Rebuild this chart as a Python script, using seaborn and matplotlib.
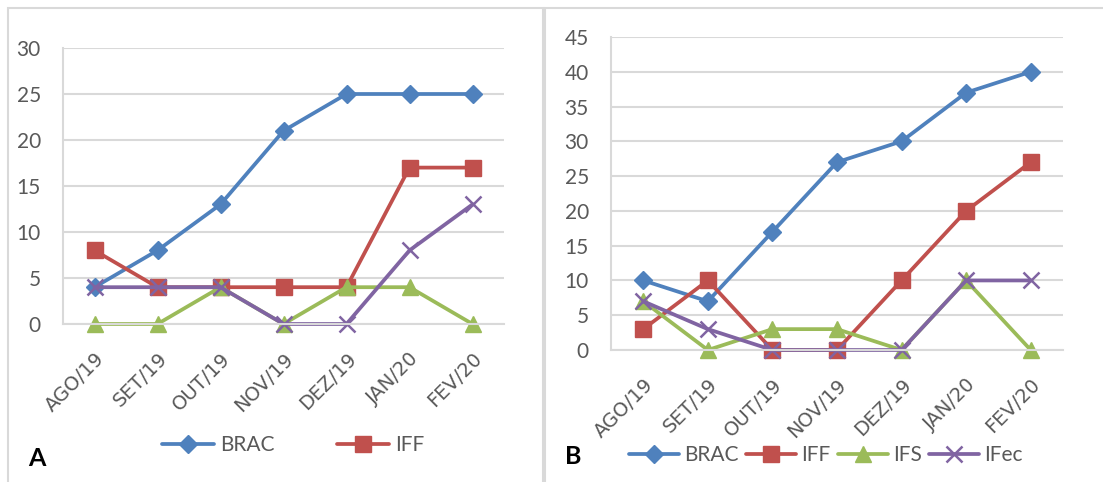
import matplotlib
matplotlib.use("Agg")
import matplotlib.pyplot as plt
import seaborn as sns
from matplotlib.lines import Line2D
from matplotlib.patches import Rectangle

# Data
months = ["AGO/19", "SET/19", "OUT/19", "NOV/19", "DEZ/19", "JAN/20", "FEV/20"]
series_names = ["BRAC", "IFF", "IFS", "IFec"]

a_brac = [4, 8, 13, 21, 25, 25, 25]
a_iff = [8, 4, 4, 4, 4, 17, 17]
a_ifs = [0, 0, 4, 0, 4, 4, 0]
a_ifec = [4, 4, 4, 0, 0, 8, 13]

b_brac = [10, 7, 17, 27, 30, 37, 40]
b_iff = [3, 10, 0, 0, 10, 20, 27]
b_ifs = [7, 0, 3, 3, 0, 10, 0]
b_ifec = [7, 3, 0, 0, 0, 10, 10]

a_yticks = [0, 5, 10, 15, 20, 25, 30]
b_yticks = [0, 5, 10, 15, 20, 25, 30, 35, 40, 45]

# Style
colors = ["#4F81BD", "#C0504D", "#9BBB59", "#8064A2"]
markers = ["D", "s", "^", "x"]
msizes = [9, 11, 11, 11]
GRID = "#D9D9D9"
TXT = "#595959"
LW = 2.7

sns.set_style("white")
plt.rcParams["font.family"] = ["Lato", "DejaVu Sans"]

fig = plt.figure(figsize=(11.03, 4.82), dpi=100)

# panel borders
fig.patches.append(Rectangle((8 / 1103, -0.05), 535 / 1103, 1 - 8 / 482 + 0.05,
                             transform=fig.transFigure, fill=False,
                             edgecolor=GRID, linewidth=1.5))
fig.patches.append(Rectangle((545 / 1103, -0.05), 600 / 1103, 1 - 8 / 482 + 0.05,
                             transform=fig.transFigure, fill=False,
                             edgecolor=GRID, linewidth=1.5))

ax_a = fig.add_axes([63 / 1103, 158 / 482, 441 / 1103, 276 / 482])
ax_b = fig.add_axes([611 / 1103, 132 / 482, 452 / 1103, 313 / 482])


def draw_panel(ax, data, yticks):
    for vals, c, m, ms in zip(data, colors, markers, msizes):
        sns.lineplot(x=months, y=vals, color=c, marker=m, markersize=ms,
                     markeredgecolor=c, markeredgewidth=1.8 if m == "x" else 1,
                     linewidth=LW, sort=False, ax=ax, clip_on=False)
    ax.set_xlim(-0.5, len(months) - 0.5)
    ax.set_ylim(yticks[0], yticks[-1])
    ax.set_yticks(yticks)
    ax.set_yticklabels([str(v) for v in yticks], fontsize=15, color=TXT)
    ax.tick_params(axis="y", length=0, pad=16)
    ax.grid(axis="y", color=GRID, linewidth=1.5)
    ax.set_axisbelow(True)
    # category boundaries as tick marks, labels at centers
    ax.set_xticks(range(len(months)))
    ax.set_xticklabels(months, rotation=45, ha="right", rotation_mode="anchor",
                       fontsize=14, color=TXT, family=["DejaVu Sans"])
    ax.tick_params(axis="x", which="major", length=0, pad=18)
    ax.set_xticks([i - 0.5 for i in range(len(months) + 1)], minor=True)
    ax.tick_params(axis="x", which="minor", length=6, color=GRID, width=1.5)
    for s in ["top", "right"]:
        ax.spines[s].set_visible(False)
    for s in ["left", "bottom"]:
        ax.spines[s].set_color(GRID)
        ax.spines[s].set_linewidth(1.5)
    ax.set_xlabel("")
    ax.set_ylabel("")


draw_panel(ax_a, [a_brac, a_iff, a_ifs, a_ifec], a_yticks)
draw_panel(ax_b, [b_brac, b_iff, b_ifs, b_ifec], b_yticks)

handles = [Line2D([0], [0], color=c, marker=m, markersize=ms, markeredgecolor=c,
                  markeredgewidth=1.8 if m == "x" else 1, linewidth=LW)
           for c, m, ms in zip(colors, markers, msizes)]

# panel A legend only shows the first two entries
fig.legend(handles[:2], series_names[:2], loc="center",
           bbox_to_anchor=(293 / 1103, 37 / 482), ncol=2, frameon=False,
           fontsize=15, handlelength=2.5, columnspacing=3.0,
           handletextpad=0.3, labelcolor=TXT)
fig.legend(handles, series_names, loc="center",
           bbox_to_anchor=(826 / 1103, 27 / 482), ncol=4, frameon=False,
           fontsize=15, handlelength=2.4, columnspacing=0.35,
           handletextpad=0.25, labelcolor=TXT)

fig.text(28 / 1103, 16 / 482, "A", fontsize=18, fontweight="bold", color="black")
fig.text(565 / 1103, 18 / 482, "B", fontsize=18, fontweight="bold", color="black")

plt.savefig("out.png", dpi=100)
plt.close()
